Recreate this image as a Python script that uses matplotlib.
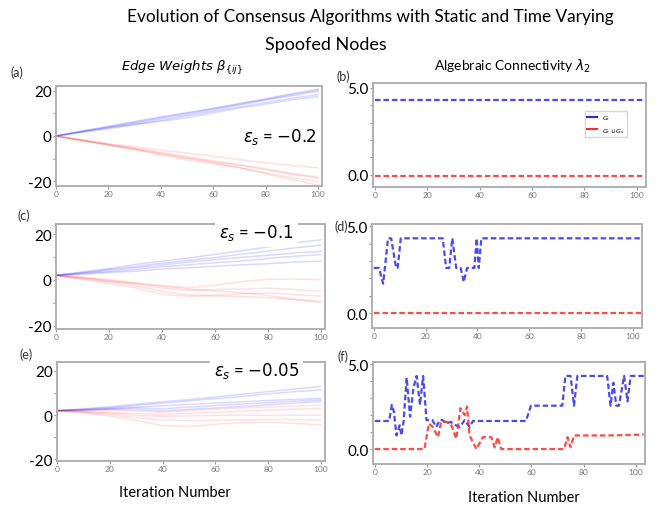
import matplotlib
matplotlib.use('Agg')
import matplotlib.pyplot as plt
from matplotlib.lines import Line2D

plt.rcParams['font.family'] = ['Lato', 'DejaVu Sans']
plt.rcParams['mathtext.fontset'] = 'dejavusans'

# iterations at which the edge weights are read (every 10 steps)
iters = [0, 10, 20, 30, 40, 50, 60, 70, 80, 90, 100]

# (a) eps_s = -0.2
a_blue = [
    [0, 2.2, 4.3, 6.4, 8.4, 10.3, 12.2, 14.3, 16.4, 18.6, 20.6],
    [0, 2.0, 3.8, 5.6, 7.6, 9.4, 11.5, 13.6, 15.8, 17.7, 19.6],
    [0, 1.7, 3.2, 4.9, 6.9, 8.8, 10.9, 12.8, 14.7, 16.6, 18.2],
    [0, 1.8, 3.6, 5.2, 6.5, 8.0, 10.2, 12.3, 14.0, 15.9, 17.3],
    [0, 2.1, 4.0, 6.0, 8.1, 10.0, 12.0, 14.1, 16.1, 18.2, 20.2],
]
a_red = [
    [0, -1.8, -3.4, -4.7, -6.2, -7.5, -8.9, -10.4, -11.8, -13.0, -14.0],
    [0, -1.9, -3.8, -5.6, -7.6, -9.6, -11.3, -13.0, -14.9, -16.8, -18.6],
    [0, -2.1, -4.0, -6.0, -8.3, -10.5, -12.2, -14.0, -16.2, -18.3, -20.2],
    [0, -2.0, -3.9, -5.8, -8.0, -9.8, -11.8, -13.9, -16.6, -19.2, -21.6],
    [0, -1.8, -3.6, -5.3, -7.2, -9.0, -11.0, -12.6, -14.4, -16.5, -18.0],
]
# (c) eps_s = -0.1
c_blue = [
    [2, 3.5, 5.0, 6.8, 8.2, 9.6, 11.2, 12.8, 14.4, 16.2, 17.6],
    [2, 3.2, 4.6, 6.0, 7.3, 8.6, 9.8, 11.3, 12.6, 14.0, 15.3],
    [2, 3.0, 4.2, 5.4, 6.6, 7.8, 8.9, 9.9, 10.8, 11.8, 12.5],
    [2, 2.8, 3.6, 4.6, 5.8, 6.6, 7.5, 8.3, 9.4, 10.4, 11.1],
    [2, 2.5, 3.3, 3.8, 4.8, 5.3, 6.0, 6.6, 7.1, 7.8, 8.2],
]
c_red = [
    [2, 1.2, 0.2, -1.2, -2.5, -3.4, -2.3, -0.8, 0.3, 0.4, 0.1],
    [2, 1.0, -0.3, -1.8, -3.6, -4.6, -4.2, -4.0, -3.6, -4.2, -4.9],
    [2, 0.5, -0.8, -2.5, -5.0, -6.6, -6.7, -6.0, -5.8, -6.4, -7.1],
    [2, 0.2, -1.5, -3.5, -6.2, -7.2, -7.0, -7.3, -7.8, -8.6, -9.3],
    [2, 0.8, -0.5, -1.5, -2.8, -4.0, -4.8, -5.6, -6.8, -8.5, -10.0],
]
# (e) eps_s = -0.05
e_blue = [
    [2, 2.8, 3.8, 4.9, 6.0, 7.0, 8.2, 9.4, 10.6, 11.8, 12.9],
    [2, 2.6, 3.4, 4.4, 5.4, 6.4, 7.4, 8.4, 9.6, 10.6, 11.4],
    [2, 2.4, 3.0, 3.6, 4.2, 4.8, 5.4, 6.0, 6.6, 7.1, 7.6],
    [2, 2.2, 2.8, 3.2, 2.8, 3.6, 4.3, 5.0, 5.6, 6.3, 6.8],
    [2, 2.3, 2.6, 2.5, 1.8, 2.6, 3.2, 3.9, 4.6, 5.4, 6.1],
]
e_red = [
    [2, 2.1, 2.3, 1.8, 1.2, 2.0, 2.6, 3.2, 3.6, 4.0, 4.5],
    [2, 1.6, 1.2, 0.6, 0.2, 0.8, 1.2, 1.8, 2.2, 2.6, 3.0],
    [2, 1.5, 0.8, -0.2, -0.6, -0.4, -0.2, 0.0, -0.2, -0.1, 0.0],
    [2, 1.2, 0.2, -1.2, -2.2, -2.6, -2.3, -2.2, -2.0, -2.1, -2.3],
    [2, 1.0, -0.5, -2.5, -4.8, -5.2, -4.2, -3.5, -3.2, -3.8, -4.5],
]

# algebraic connectivity, breakpoints (iteration, lambda2)
b_blue_x = [0, 103]
b_blue_y = [4.3, 4.3]
b_red_x = [0, 103]
b_red_y = [-0.05, -0.05]

d_blue_x = [0, 2, 3.6, 5.5, 6.7, 8.6, 9.2, 10.4, 26.6, 27.9, 29.1, 30.3, 31.8,
            33.5, 34.7, 36, 38.8, 39.7, 40.5, 41.5, 103]
d_blue_y = [2.6, 2.6, 1.7, 4.3, 4.3, 2.6, 2.6, 4.3, 4.3, 2.6, 2.6, 4.3, 2.6,
            2.6, 1.8, 2.6, 2.6, 4.3, 2.6, 4.3, 4.3]
d_red_x = [0, 103]
d_red_y = [0, 0]

f_blue_x = [0, 5.5, 6.5, 7.3, 8.3, 9.5, 10.2, 11, 12.2, 13.5, 14.8, 16, 17.3,
            18.5, 19.8, 22, 23.6, 24.8, 26, 27.4, 29, 31, 32.5, 34.4, 36.3,
            37.6, 57.9, 59.8, 71.8, 73, 75, 76.3, 77.6, 89, 90.3, 91.4, 92.5,
            93.5, 95.5, 96.8, 98, 103]
f_blue_y = [1.65, 1.65, 2.6, 2.2, 0.8, 1.4, 0.8, 1.6, 4.2, 1.9, 3.6, 4.3, 2.6,
            4.3, 1.7, 1.7, 1.3, 1.7, 1.7, 1.5, 1.6, 1.4, 1.3, 1.7, 1.3,
            1.65, 1.65, 2.55, 2.55, 4.3, 4.3, 2.55, 4.3, 4.3, 2.55, 3.9, 2.55,
            2.55, 4.3, 2.8, 4.3, 4.3]
f_red_x = [0, 19, 20.7, 22.2, 24.2, 25.4, 27.4, 29.3, 31.2, 32.8, 34.4, 35.3,
           36.3, 37.6, 38.9, 41.4, 44.6, 45.9, 47.1, 48.4, 72.5, 73.8, 75,
           76.3, 90, 103]
f_red_y = [0, 0, 1.5, 1.3, 0.7, 1.6, 1.6, 1.4, 0.6, 2.4, 2.0, 2.5,
           0.8, 0.4, 0, 0.7, 0.7, 0.1, 0.7, 0, 0, 0.7, 0.1,
           0.8, 0.8, 0.85]

eps_labels = [r'$\epsilon_s$ = $-0.2$', r'$\epsilon_s$ = $-0.1$', r'$\epsilon_s$ = $-0.05$']

W, H = 662, 510
fig = plt.figure(figsize=(6.62, 5.10), dpi=100)


def box(l, r, t, b):
    return [l / W, 1 - b / H, (r - l) / W, (b - t) / H]


def style(ax):
    for s in ax.spines.values():
        s.set_color('#b0b0b0')
        s.set_linewidth(1.4)
    ax.tick_params(axis='x', labelsize=6, labelcolor='#777777', length=2,
                   color='#999999', pad=1)
    ax.tick_params(axis='y', labelsize=11, length=2, color='#999999', pad=1)


left_boxes = [box(56, 322, 87, 187), box(56, 325, 225, 330), box(57, 325, 363, 462)]
right_boxes = [box(373, 646, 84, 188), box(372, 642, 225, 329), box(373, 645, 363, 465)]
left_data = [(a_blue, a_red), (c_blue, c_red), (e_blue, e_red)]
left_ylims = [(-22, 22), (-21.5, 24.5), (-20.8, 24)]
right_data = [(b_blue_x, b_blue_y, b_red_x, b_red_y),
              (d_blue_x, d_blue_y, d_red_x, d_red_y),
              (f_blue_x, f_blue_y, f_red_x, f_red_y)]
right_ylims = [(-0.7, 5.27), (-0.84, 5.12), (-0.88, 5.12)]

for i in range(3):
    ax = fig.add_axes(left_boxes[i])
    blues, reds = left_data[i]
    for y in blues:
        ax.plot(iters, y, color='blue', alpha=0.15, lw=1.1)
    for y in reds:
        ax.plot(iters, y, color='red', alpha=0.12, lw=1.1)
    ax.set_xlim(0, 101.5)
    ax.set_ylim(*left_ylims[i])
    ax.set_xticks([0, 20, 40, 60, 80, 100])
    ax.set_yticks([-20, -10, 0, 10, 20])
    ax.set_yticklabels(['-20', '', '0', '', '20'])
    style(ax)
    if i == 0:
        ax.text(0.84, 0.5, eps_labels[i], transform=ax.transAxes, fontsize=12,
                ha='center', va='center')
    else:
        ax.text(0.745, 0.92, eps_labels[i], transform=ax.transAxes, fontsize=12,
                ha='center', va='center', zorder=5, clip_on=False,
                bbox=dict(facecolor='white', edgecolor='none', pad=3))

    ax2 = fig.add_axes(right_boxes[i])
    bx, by, rx, ry = right_data[i]
    ax2.plot(bx, by, color='#2a2aee', ls='--', dashes=(2.5, 1.3), lw=1.6,
             alpha=0.85, label=r'$G_r$')
    ax2.plot(rx, ry, color='#ff2a2a', ls='--', dashes=(2.5, 1.3), lw=1.6,
             alpha=0.85, label=r'$G_r \cup G_s$')
    ax2.set_xlim(-0.7, 103.5)
    ax2.set_ylim(*right_ylims[i])
    ax2.set_xticks([0, 20, 40, 60, 80, 100])
    ax2.set_yticks([0, 1, 2, 3, 4, 5])
    ax2.set_yticklabels(['0.0', '', '', '', '', '5.0'])
    style(ax2)
    if i == 0:
        handles = [Line2D([], [], color='#2a2aee', lw=1.5),
                   Line2D([], [], color='#ff2a2a', lw=1.5)]
        ax2.legend(handles, [r'$G_r$', r'$G_r \cup G_s$'], loc='upper left',
                   bbox_to_anchor=(0.765, 0.76), fontsize=4.5, handlelength=1.5,
                   frameon=True, edgecolor='#cccccc', fancybox=False)

for lab, x, y in [('(a)', 17, 73), ('(b)', 343, 77), ('(c)', 24, 216),
                  ('(d)', 341, 227), ('(e)', 26, 355), ('(f)', 343, 357)]:
    fig.text(x / W, 1 - y / H, lab, fontsize=9, color='#333333',
             ha='center', va='center')

fig.text(370 / W, 1 - 17 / H, 'Evolution of Consensus Algorithms with Static and Time Varying',
         fontsize=12.4, ha='center', va='center')
fig.text(326 / W, 1 - 45 / H, 'Spoofed Nodes', fontsize=13, ha='center', va='center')
fig.text(182 / W, 1 - 68 / H, r'$Edge\ Weights\ \beta_{\{ij\}}$', fontsize=9.5,
         ha='center', va='center')
fig.text(512 / W, 1 - 66 / H, r'Algebraic Connectivity $\lambda_2$', fontsize=10,
         ha='center', va='center')
fig.text(175 / W, 1 - 493 / H, 'Iteration Number', fontsize=10.5, ha='center', va='center')
fig.text(524 / W, 1 - 498 / H, 'Iteration Number', fontsize=10.5, ha='center', va='center')

fig.savefig('out.png', dpi=100)
